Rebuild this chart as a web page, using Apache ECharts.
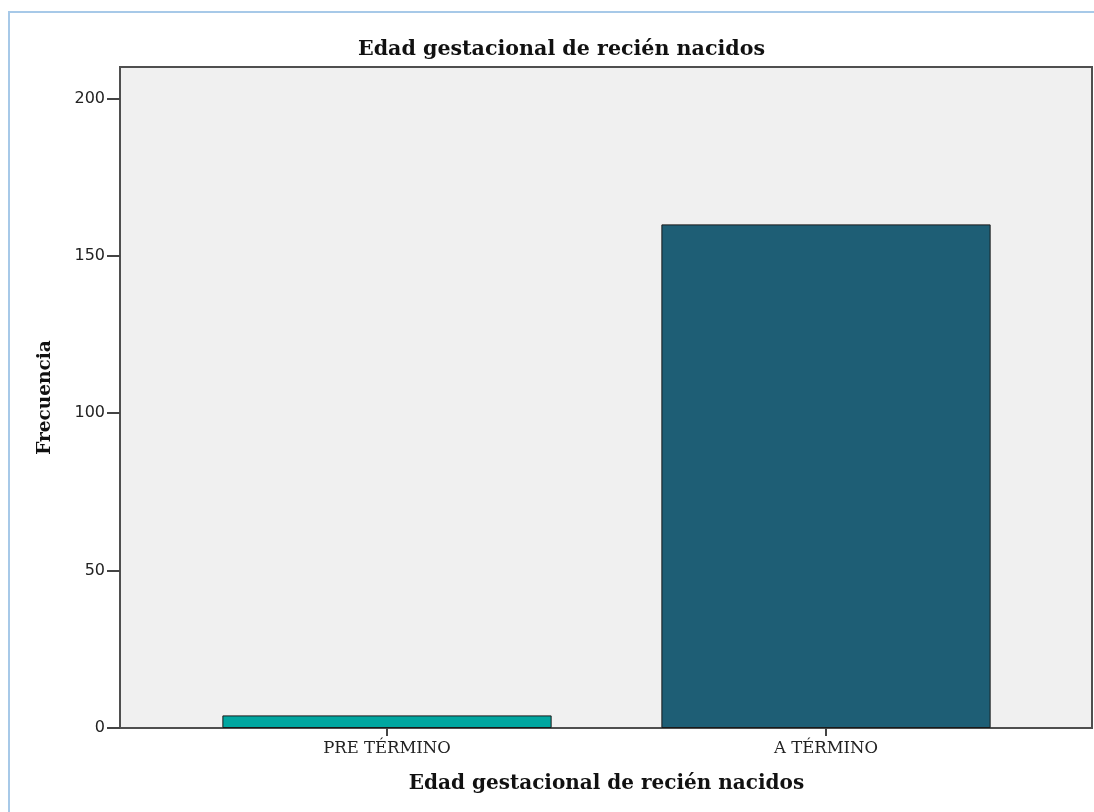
<!DOCTYPE html>
<html>
<head>
<meta charset="utf-8">
<script src="https://cdn.jsdelivr.net/npm/echarts@6/dist/echarts.min.js"></script>
<style>
html,body{margin:0;padding:0;background:#fff;}
#c{width:1094px;height:812px;}
</style>
</head>
<body>
<div id="c"></div>
<script>
var categories = ['PRE TÉRMINO', 'A TÉRMINO'];
var frecuencias = [4, 160];
var barColors = ['#00A6A0', '#1E5E75'];
var yTicks = [0, 50, 100, 150, 200];
var yMax = 210;

var chart = echarts.init(document.getElementById('c'), null, {renderer: 'canvas'});
var barData = frecuencias.map(function (v, i) {
  return {value: v, itemStyle: {color: barColors[i]}};
});
var serif = '"DejaVu Serif", serif';
var option = {
  backgroundColor: '#ffffff',
  animation: false,
  title: {
    text: 'Edad gestacional de recién nacidos',
    left: 353,
    top: 34,
    textStyle: {fontFamily: serif, fontWeight: 'bold', fontSize: 20.6, color: '#111'}
  },
  graphic: [{
    type: 'rect',
    shape: {x: 9, y: 12, width: 1200, height: 900},
    style: {fill: 'none', stroke: '#A7C9E8', lineWidth: 2},
    silent: true,
    z: 100
  }],
  grid: [
    {left: 120, right: 2, top: 67, bottom: 84, show: true, backgroundColor: '#F0F0F0', borderColor: '#4F4F4F', borderWidth: 2},
    {left: 167.5, right: 48.5, top: 67, bottom: 84}
  ],
  xAxis: [
    {gridIndex: 0, type: 'value', min: 0, max: 1, show: false},
    {
      gridIndex: 1, type: 'category', data: categories,
      axisLine: {show: false},
      axisTick: {show: true, alignWithLabel: true, length: 8, lineStyle: {color: '#444', width: 2}},
      axisLabel: {margin: 12, fontFamily: serif, fontSize: 16.5, color: '#222'},
      name: 'Edad gestacional de recién nacidos',
      nameLocation: 'middle',
      nameGap: 46,
      nameTextStyle: {fontFamily: serif, fontWeight: 'bold', fontSize: 20, color: '#111'}
    }
  ],
  yAxis: [
    {
      gridIndex: 0, type: 'value', min: 0, max: yMax,
      splitLine: {show: false},
      axisLine: {show: false},
      axisTick: {show: true, length: 13, customValues: yTicks, lineStyle: {color: '#444', width: 2}},
      axisLabel: {margin: 15, customValues: yTicks, fontFamily: '"DejaVu Sans", sans-serif', fontSize: 16, color: '#222'},
      name: 'Frecuencia',
      nameLocation: 'middle',
      nameGap: 65,
      nameTextStyle: {fontFamily: serif, fontWeight: 'bold', fontSize: 18.5, color: '#111'}
    },
    {gridIndex: 1, type: 'value', min: 0, max: yMax, show: false}
  ],
  series: [{
    type: 'bar',
    xAxisIndex: 1,
    yAxisIndex: 1,
    barWidth: '75%',
    data: barData,
    itemStyle: {borderColor: '#1a1a1a', borderWidth: 1}
  }]
};
chart.setOption(option);
</script>
</body>
</html>
